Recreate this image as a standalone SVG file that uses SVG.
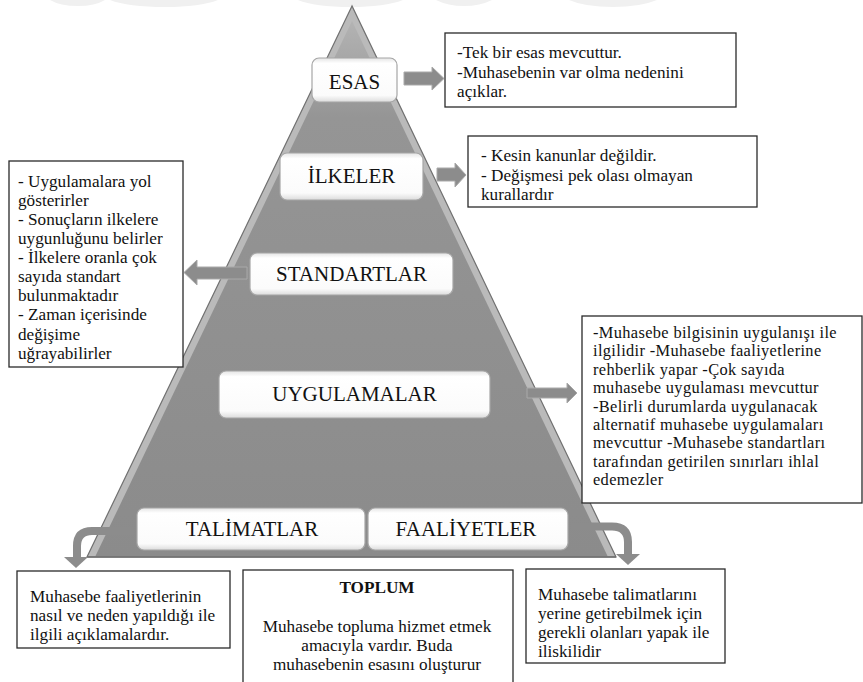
<svg xmlns="http://www.w3.org/2000/svg" width="863" height="682" viewBox="0 0 863 682">
<defs>
<linearGradient id="pyrFill" x1="0" y1="0" x2="0" y2="1">
<stop offset="0" stop-color="#b3b3b3"/>
<stop offset="0.18" stop-color="#959595"/>
<stop offset="1" stop-color="#8b8b8b"/>
</linearGradient>
<linearGradient id="lblFill" x1="0" y1="0" x2="0" y2="1">
<stop offset="0" stop-color="#e4e4e4"/>
<stop offset="0.12" stop-color="#ffffff"/>
<stop offset="0.85" stop-color="#fbfbfb"/>
<stop offset="1" stop-color="#dcdcdc"/>
</linearGradient>
<style>
.lbl rect{fill:url(#lblFill);stroke:#a6a6a6;stroke-width:1.2}
.lbl text{font-family:"Liberation Serif","Times New Roman",serif;font-size:21px;fill:#111111;text-anchor:middle}
.box rect{fill:#ffffff;stroke:#2a2a2a;stroke-width:1.3}
.box text{font-family:"Liberation Serif","Times New Roman",serif;font-size:17.2px;fill:#111111}
.box text.dense{font-size:16.4px;letter-spacing:0.35px}
.arr{fill:#8c8c8c;stroke:#a9a9a9;stroke-width:1}
.carr{fill:none;stroke:#8c8c8c;stroke-width:8}
.wm{fill:#f0f0f0}
</style>
</defs>
<rect width="863" height="682" fill="#ffffff"/>
<g id="watermark">
<path class="wm" d="M50,0 H105 Q95,6 78,6 Q60,6 50,0 Z"/>
<path class="wm" d="M110,0 H218 Q200,7 165,7 Q128,7 110,0 Z"/>
<path class="wm" d="M298,0 H403 Q385,7 350,7 Q315,7 298,0 Z"/>
<path class="wm" d="M436,0 H492 Q480,6 464,6 Q448,6 436,0 Z"/>
<path class="wm" d="M569,0 H657 Q640,7 613,7 Q585,7 569,0 Z"/>
</g>
<g id="pyramid">
<polygon points="352,6 87,557 616,557" fill="#bababa" stroke="#707070" stroke-width="1.2"/>
<polygon points="352,21 95,557 608,557" fill="url(#pyrFill)"/>
<line x1="87" y1="557" x2="616" y2="557" stroke="#6e6e6e" stroke-width="1.5"/>
</g>
<g id="connectors">
<polygon class="arr" points="404,72 432,72 432,67 444,78.5 432,90 432,85 404,85"/>
<polygon class="arr" points="437,168 455,168 455,163 466,175 455,187 455,181 437,181"/>
<polygon class="arr" points="247,267 197,267 197,260 184,272.5 197,285 197,279 247,279"/>
<polygon class="arr" points="527,388 567,388 567,383 577,393 567,403 567,398 527,398"/>
<path class="carr" d="M134,531 H92 Q77,531 77,546 V558"/>
<polygon fill="#8c8c8c" points="64,557 88,557 76,568"/>
<path class="carr" d="M572,526.5 H612 Q628,526.5 628,542 V555"/>
<polygon fill="#8c8c8c" points="616,554 640,554 628,565"/>
</g>
<g id="node-esas" class="lbl">
<rect x="312" y="58" width="85" height="44" rx="7"/>
<text x="354.5" y="89">ESAS</text>
</g>
<g id="node-ilkeler" class="lbl">
<rect x="280" y="153" width="143" height="47" rx="7"/>
<text x="351.5" y="183">İLKELER</text>
</g>
<g id="node-standartlar" class="lbl">
<rect x="250" y="253" width="203" height="42" rx="7"/>
<text x="351.5" y="281">STANDARTLAR</text>
</g>
<g id="node-uygulamalar" class="lbl">
<rect x="219" y="371" width="271" height="47" rx="7"/>
<text x="354.5" y="401">UYGULAMALAR</text>
</g>
<g id="node-talimatlar" class="lbl">
<rect x="137" y="508" width="228" height="42" rx="7"/>
<text x="252" y="536">TALİMATLAR</text>
</g>
<g id="node-faaliyetler" class="lbl">
<rect x="368" y="508" width="200" height="42" rx="7"/>
<text x="466" y="536">FAALİYETLER</text>
</g>
<g id="note-esas" class="box">
<rect x="445" y="33" width="291" height="74"/>
<text x="457" y="58">-Tek bir esas mevcuttur.</text>
<text x="457" y="78">-Muhasebenin var olma nedenini</text>
<text x="457" y="97">açıklar.</text>
</g>
<g id="note-ilkeler" class="box">
<rect x="468" y="136" width="289" height="71"/>
<text x="481" y="161">- Kesin kanunlar değildir.</text>
<text x="481" y="181">- Değişmesi pek olası olmayan</text>
<text x="481" y="200">kurallardır</text>
</g>
<g id="note-standartlar" class="box">
<rect x="9" y="161" width="174" height="206"/>
<text x="18" y="187">- Uygulamalara yol</text>
<text x="18" y="206">gösterirler</text>
<text x="18" y="225">- Sonuçların ilkelere</text>
<text x="18" y="244">uygunluğunu belirler</text>
<text x="18" y="263">- İlkelere oranla çok</text>
<text x="18" y="282">sayıda standart</text>
<text x="18" y="301">bulunmaktadır</text>
<text x="18" y="320">- Zaman içerisinde</text>
<text x="18" y="340">değişime</text>
<text x="18" y="359">uğrayabilirler</text>
</g>
<g id="note-uygulamalar" class="box">
<rect x="582" y="316" width="280" height="187"/>
<text class="dense" x="593" y="338">-Muhasebe bilgisinin uygulanışı ile</text>
<text class="dense" x="593" y="356.4">ilgilidir -Muhasebe faaliyetlerine</text>
<text class="dense" x="593" y="374.8">rehberlik yapar -Çok sayıda</text>
<text class="dense" x="593" y="393.2">muhasebe uygulaması mevcuttur</text>
<text class="dense" x="593" y="411.6">-Belirli durumlarda uygulanacak</text>
<text class="dense" x="593" y="430">alternatif muhasebe uygulamaları</text>
<text class="dense" x="593" y="448.4">mevcuttur -Muhasebe standartları</text>
<text class="dense" x="593" y="466.8">tarafından getirilen sınırları ihlal</text>
<text class="dense" x="593" y="485.2">edemezler</text>
</g>
<g id="note-talimatlar" class="box">
<rect x="17" y="571" width="213" height="77"/>
<text x="30" y="602">Muhasebe faaliyetlerinin</text>
<text x="30" y="621">nasıl ve neden yapıldığı ile</text>
<text x="30" y="640">ilgili açıklamalardır.</text>
</g>
<g id="note-toplum" class="box">
<rect x="243" y="570" width="270" height="125"/>
<text x="377" y="593" text-anchor="middle" font-weight="bold">TOPLUM</text>
<text x="377" y="632" text-anchor="middle">Muhasebe topluma hizmet etmek</text>
<text x="377" y="651" text-anchor="middle">amacıyla vardır. Buda</text>
<text x="377" y="670" text-anchor="middle">muhasebenin esasını oluşturur</text>
</g>
<g id="note-faaliyetler" class="box">
<rect x="526" y="569" width="199" height="94"/>
<text x="538" y="600">Muhasebe talimatlarını</text>
<text x="538" y="619">yerine getirebilmek için</text>
<text x="538" y="638">gerekli olanları yapak ile</text>
<text x="538" y="657">iliskilidir</text>
</g>
</svg>
